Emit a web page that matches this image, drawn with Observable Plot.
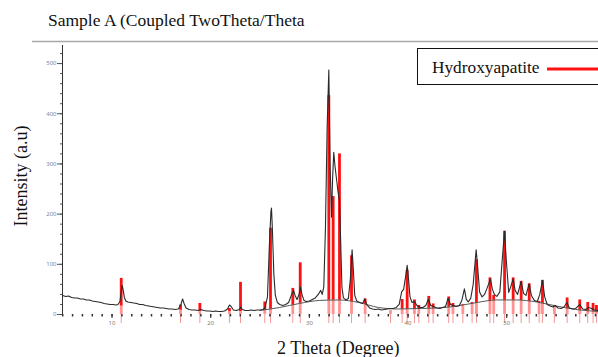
<!DOCTYPE html>
<html>
<head>
<meta charset="utf-8">
<script src="https://cdn.jsdelivr.net/npm/d3@7"></script>
<script src="https://cdn.jsdelivr.net/npm/@observablehq/plot@0.6"></script>
<style>
  body { margin: 0; background: #fff; }
  #chart { width: 598px; height: 357px; overflow: hidden; }
</style>
</head>
<body>
<div id="chart"></div>
<script>
// ---- data ----
const titleText = "Sample A (Coupled TwoTheta/Theta";
const yLabelText = "Intensity (a.u)";
const xLabelText = "2 Theta (Degree)";
const legendText = "Hydroxyapatite";

// measured pattern (2θ, intensity)
const patternX = [5.0,5.3,5.6,5.9,6.2,6.5,6.8,7.1,7.4,7.7,8.0,8.3,8.6,8.9,9.2,9.5,9.8,10.1,10.4,10.6,10.8,10.95,11.03,11.12,11.25,11.4,11.6,11.9,12.2,12.5,12.8,13.1,13.4,13.7,14.0,14.3,14.6,14.9,15.2,15.5,15.8,16.1,16.4,16.7,16.95,17.15,17.3,17.5,17.8,18.1,18.4,18.7,19.0,19.3,19.6,19.9,20.2,20.5,20.8,21.1,21.4,21.7,21.9,22.1,22.3,22.6,22.9,23.05,23.2,23.5,23.8,24.1,24.4,24.7,25.0,25.3,25.5,25.75,25.95,26.1,26.16,26.25,26.4,26.55,26.75,27.0,27.3,27.6,27.9,28.2,28.4,28.55,28.75,28.95,29.1,29.25,29.45,29.7,30.0,30.3,30.6,30.9,31.15,31.3,31.46,31.63,31.8,31.97,32.1,32.24,32.35,32.47,32.6,32.75,32.9,33.05,33.15,33.3,33.45,33.7,33.95,34.15,34.33,34.45,34.6,34.8,35.1,35.4,35.62,35.8,36.1,36.4,36.7,37.0,37.3,37.6,37.9,38.2,38.5,38.8,39.1,39.35,39.55,39.75,39.91,40.05,40.2,40.4,40.65,40.9,41.2,41.5,41.8,42.05,42.3,42.6,42.9,43.2,43.5,43.8,44.05,44.3,44.6,44.9,45.2,45.45,45.71,45.9,46.1,46.35,46.6,46.9,47.05,47.25,47.5,47.75,48.0,48.35,48.55,48.75,49.0,49.3,49.55,49.77,49.95,50.2,50.4,50.65,50.85,51.1,51.46,51.7,51.95,52.27,52.5,52.8,53.1,53.35,53.62,53.85,54.1,54.4,54.7,54.9,55.2,55.5,55.8,56.1,56.35,56.7,57.0,57.4,57.7,58.0,58.3,58.6,58.9,59.3];
const patternY = [38,36,37,34,33,33,31,31,29,29,27,26,25,24,22,21,20,20,19,20,26,48,58,50,34,27,25,24,23,22,20,20,18,17,16,15,14,13,13,12,11,11,10,11,18,31,22,13,10,9,9,8,10,8,7,7,6,7,6,6,7,11,19,15,9,8,10,15,10,8,8,9,8,9,9,10,13,35,140,205,212,170,80,38,24,20,18,20,24,40,48,38,30,40,55,40,28,26,27,30,33,40,48,40,55,174,373,487,300,194,270,323,295,270,245,227,161,54,33,29,32,70,129,90,38,27,24,22,31,20,13,11,10,11,9,10,11,12,12,14,20,45,50,75,98,70,35,24,26,18,14,14,18,30,18,16,13,12,14,16,32,20,18,16,18,28,51,30,25,32,60,129,95,45,35,40,52,71,50,40,36,45,110,166,110,44,55,71,48,40,66,42,38,61,38,28,26,40,68,35,20,17,15,18,13,12,15,24,13,11,12,20,11,10,14,12,9,8];

// amorphous background line
const bgX = [5,10,15,20,23,25,27,29,31,33,35,37,39,41,43,45,47,49,51,53,55,57,59.3];
const bgY = [36,19,12,6,6,8,14,22,28,29,24,14,11,12,13,17,24,29,29,25,17,10,6];

// Hydroxyapatite reference peaks
const peakPos = [10.93,16.94,18.90,21.90,23.02,25.48,26.06,28.32,29.07,31.97,32.41,33.05,34.27,35.65,38.22,39.40,39.91,40.65,41.09,42.10,42.54,44.12,44.55,45.55,46.49,46.93,48.30,48.68,49.78,50.65,51.46,52.28,53.28,53.62,54.83,56.12,57.40,58.21,58.75,59.09];
const peakHeight = [72,19,22,12,64,25,172,52,103,436,235,320,117,31,8,30,88,29,18,36,21,35,22,20,24,109,73,38,166,73,66,61,26,68,18,33,29,24,22,18];

const yTickValues = [0,100,200,300,400,500];
const xTickValues = [10,20,30,40,50];

// ---- build tables ----
const pattern = patternX.map((x, i) => ({x, y: patternY[i]}));
const bg = bgX.map((x, i) => ({x, y: bgY[i]}));
const peaks = peakPos.map((x, i) => ({x, h: peakHeight[i]}));

const W = 598, H = 357;
const xDomain = [4.98, 59.3];
const yDomain = [0, 536];

const plot = Plot.plot({
  width: W,
  height: H,
  marginLeft: 62,
  marginRight: 0,
  marginTop: 45,
  marginBottom: 43,
  style: {background: "#fff", overflow: "visible"},
  x: {domain: xDomain},
  y: {domain: yDomain},
  marks: [
    Plot.ruleX(peaks, {x: "x", y1: -18, y2: 0, stroke: "#f29a9a", strokeWidth: 1}),
    Plot.ruleX(peaks, {x: "x", y1: 0, y2: "h", stroke: "#ff1010", strokeWidth: 2.8}),
    Plot.areaY(bg, {x: "x", y1: 0, y2: "y", fill: "white", fillOpacity: 0.55, curve: "monotone-x"}),
    Plot.ruleX([xDomain[0]], {y1: -3, y2: yDomain[1], stroke: "#333", strokeWidth: 1}),
    Plot.axisY({ticks: d3.range(0, 540, 20), tickSize: 2, tickFormat: () => "", stroke: "#555", label: null}),
    Plot.axisY({ticks: yTickValues, tickSize: 5, tickPadding: 1, fontSize: 6, fill: "#7488a8", stroke: "#555", label: null}),
    Plot.axisX({ticks: d3.range(5, 60, 1), tickSize: 2.5, tickFormat: () => "", stroke: "#333", strokeWidth: 1.5, label: null}),
    Plot.axisX({ticks: xTickValues, tickSize: 4, tickPadding: 2, fontSize: 6, fill: "#8a7a66", stroke: "#333", label: null}),
    Plot.line(bg.filter(d => d.x >= 24), {x: "x", y: "y", stroke: "#444", strokeWidth: 0.9, curve: "monotone-x"}),
    Plot.line(pattern, {x: "x", y: "y", stroke: "#2a2a2a", strokeWidth: 1.1, curve: "linear"})
  ]
});

document.getElementById("chart").appendChild(plot);

// decorations: title, separator, axis titles, legend
const svg = d3.select(plot);
const serif = "'Liberation Serif', 'Times New Roman', serif";
svg.append("text").attr("x", 48).attr("y", 26).attr("text-anchor", "start").attr("font-family", serif)
  .attr("font-size", 17.5).attr("fill", "#111").text(titleText);
svg.append("line").attr("x1", 32).attr("x2", W).attr("y1", 41.5).attr("y2", 41.5)
  .attr("stroke", "#a8a8a8").attr("stroke-width", 1.5);
svg.append("text").attr("transform", "translate(27,176) rotate(-90)").attr("text-anchor", "middle")
  .attr("font-family", serif).attr("font-size", 18).attr("fill", "#111").text(yLabelText);
svg.append("text").attr("x", 277).attr("y", 354).attr("text-anchor", "start").attr("font-family", serif)
  .attr("font-size", 18).attr("fill", "#111").text(xLabelText);
const lg = svg.append("g");
lg.append("rect").attr("x", 417.5).attr("y", 48.5).attr("width", 200).attr("height", 36)
  .attr("fill", "#fff").attr("stroke", "#111").attr("stroke-width", 1);
lg.append("text").attr("x", 432).attr("y", 73).attr("text-anchor", "start").attr("font-family", serif)
  .attr("font-size", 17.3).attr("fill", "#111").text(legendText);
lg.append("line").attr("x1", 547).attr("x2", 610).attr("y1", 69).attr("y2", 69)
  .attr("stroke", "#ff1010").attr("stroke-width", 3);
</script>
</body>
</html>
